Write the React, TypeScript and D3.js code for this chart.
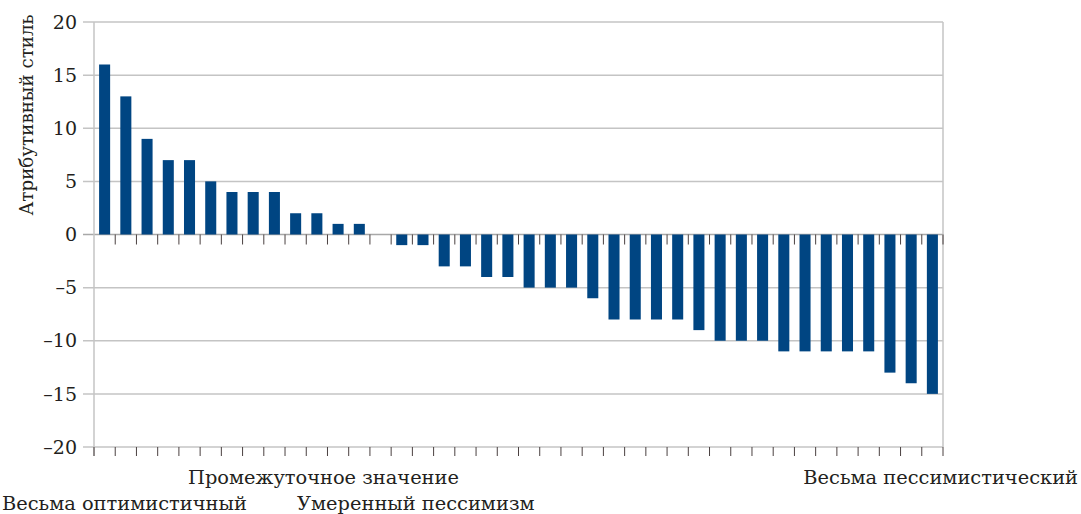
import React from "react";
import * as d3 from "d3";

const values: number[] = [
  16, 13, 9, 7, 7, 5, 4, 4, 4, 2, 2, 1, 1, 0,
  -1, -1, -3, -3, -4, -4, -5, -5, -5, -6, -8, -8, -8, -8, -9,
  -10, -10, -10, -11, -11, -11, -11, -11, -13, -14, -15,
];
const categories: string[] = values.map((_, i) => `R${i + 1}`);
const yTicks: number[] = [20, 15, 10, 5, 0, -5, -10, -15, -20];
const yTitle = "Атрибутивный стиль";
const xLabels = [
  { text: "Промежуточное значение", x: 188, y: 484, anchor: "start" },
  { text: "Весьма оптимистичный", x: 2, y: 510, anchor: "start" },
  { text: "Умеренный пессимизм", x: 297, y: 510, anchor: "start" },
  { text: "Весьма пессимистический", x: 1078, y: 484, anchor: "end" },
];

const W = 1081;
const H = 514;
const left = 94;
const right = 943;
const top = 22;
const bottom = 447;
const FONT = "DejaVu Serif";

export default function App() {
  const x = d3.scaleBand<string>().domain(categories).range([left, right]).paddingInner(0.48).paddingOuter(0.24);
  const y = d3.scaleLinear().domain([-20, 20]).range([bottom, top]);
  const step = (right - left) / categories.length;
  const tickXs = d3.range(categories.length + 1).map((i) => left + i * step);
  const grid = "#c4c4c4";
  const fmt = (v: number) => (v < 0 ? "\u2013" + Math.abs(v) : String(v));

  return (
    <svg width={W} height={H} style={{ position: "absolute", left: 0, top: 0, background: "#fff" }}>
      {yTicks.map((t) => (
        <line key={"g" + t} x1={left - 11} x2={right} y1={y(t)} y2={y(t)} stroke={t === 0 ? "#a8a8a8" : grid} strokeWidth={1.5} />
      ))}
      <line x1={left} x2={left} y1={top} y2={bottom + 9} stroke={grid} strokeWidth={1.5} />
      <line x1={right} x2={right} y1={top} y2={bottom} stroke={grid} strokeWidth={1.5} />
      {values.map((v, i) => (
        <rect
          key={i}
          x={x(categories[i])}
          width={x.bandwidth()}
          y={Math.min(y(v), y(0))}
          height={Math.abs(y(v) - y(0))}
          fill="#004582"
        />
      ))}
      {tickXs.map((tx, i) => (
        <g key={"t" + i}>
          {i > 0 && <line x1={tx} x2={tx} y1={y(0)} y2={y(0) + 10} stroke="#4a4040" strokeWidth={1} />}
          <line x1={tx} x2={tx} y1={bottom} y2={bottom + 9} stroke="#4a4040" strokeWidth={1} />
        </g>
      ))}
      {yTicks.map((t) => (
        <text key={"l" + t} x={77} y={y(t)} dy="0.35em" textAnchor="end" fontFamily={FONT} fontSize={19} fill="#231f20">
          {fmt(t)}
        </text>
      ))}
      <text
        transform={`translate(33, 115) rotate(-90)`}
        textAnchor="middle"
        fontFamily={FONT}
        fontSize={18.3}
        fill="#231f20"
      >
        {yTitle}
      </text>
      {xLabels.map((l) => (
        <text key={l.text} x={l.x} y={l.y} textAnchor={l.anchor as any} fontFamily={FONT} fontSize={19.4} fill="#231f20">
          {l.text}
        </text>
      ))}
    </svg>
  );
}
